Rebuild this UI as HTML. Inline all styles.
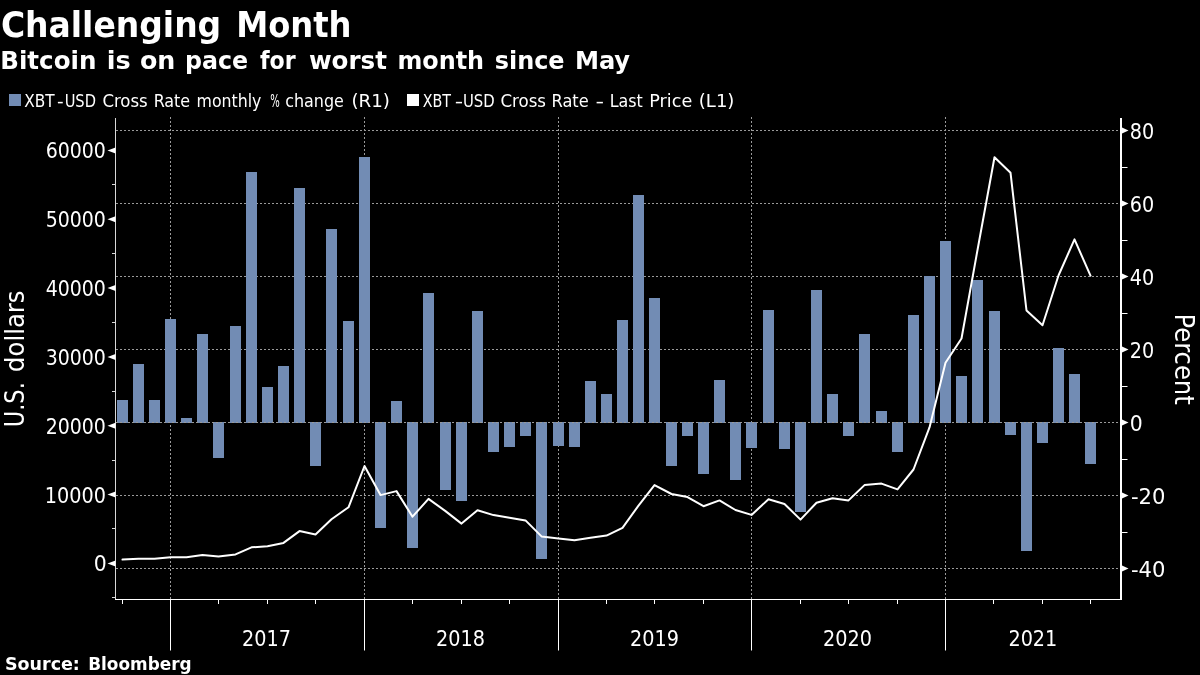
<!DOCTYPE html>
<html lang="en"><head><meta charset="utf-8"><title>Challenging Month</title>
<style>html,body{margin:0;padding:0;background:#000;}body{width:1200px;height:675px;overflow:hidden;}svg{display:block}.t{font-family:"DejaVu Sans Condensed","DejaVu Sans","Liberation Sans",sans-serif;fill:#fff}.b{font-family:"DejaVu Sans Condensed","DejaVu Sans","Liberation Sans",sans-serif;font-weight:bold;fill:#fff}</style></head><body>
<svg width="1200" height="675" viewBox="0 0 1200 675">
<rect width="1200" height="675" fill="#000"/>
<g id="title">
<text class="b" font-size="35" x="0.95" y="36.9" textLength="220.28" lengthAdjust="spacingAndGlyphs">Challenging</text>
<text class="b" font-size="35" x="236.24" y="36.9" textLength="115.29" lengthAdjust="spacingAndGlyphs">Month</text>
</g>
<g id="sub">
<text class="b" font-size="25.5" x="0.26" y="69.0" textLength="96.15" lengthAdjust="spacingAndGlyphs">Bitcoin</text>
<text class="b" font-size="25.5" x="106.78" y="69.0" textLength="23.91" lengthAdjust="spacingAndGlyphs">is</text>
<text class="b" font-size="25.5" x="139.90" y="69.0" textLength="35.43" lengthAdjust="spacingAndGlyphs">on</text>
<text class="b" font-size="25.5" x="184.93" y="69.0" textLength="63.17" lengthAdjust="spacingAndGlyphs">pace</text>
<text class="b" font-size="25.5" x="260.00" y="69.0" textLength="35.66" lengthAdjust="spacingAndGlyphs">for</text>
<text class="b" font-size="25.5" x="308.93" y="69.0" textLength="77.97" lengthAdjust="spacingAndGlyphs">worst</text>
<text class="b" font-size="25.5" x="397.42" y="69.0" textLength="86.64" lengthAdjust="spacingAndGlyphs">month</text>
<text class="b" font-size="25.5" x="494.76" y="69.0" textLength="69.80" lengthAdjust="spacingAndGlyphs">since</text>
<text class="b" font-size="25.5" x="574.90" y="69.0" textLength="55.21" lengthAdjust="spacingAndGlyphs">May</text>
</g>
<rect x="9" y="94" width="12" height="12" fill="#728cb4"/>
<g id="leg1">
<text class="t" font-size="17" x="24.30" y="106.9" textLength="30.31" lengthAdjust="spacingAndGlyphs">XBT</text>
<text class="t" font-size="17" x="57.00" y="106.9" textLength="6.64" lengthAdjust="spacingAndGlyphs">-</text>
<text class="t" font-size="17" x="64.64" y="106.9" textLength="31.33" lengthAdjust="spacingAndGlyphs">USD</text>
<text class="t" font-size="17" x="102.42" y="106.9" textLength="45.35" lengthAdjust="spacingAndGlyphs">Cross</text>
<text class="t" font-size="17" x="153.66" y="106.9" textLength="36.52" lengthAdjust="spacingAndGlyphs">Rate</text>
<text class="t" font-size="17" x="196.57" y="106.9" textLength="64.87" lengthAdjust="spacingAndGlyphs">monthly</text>
<text class="t" font-size="17" x="270.15" y="106.9" textLength="9.51" lengthAdjust="spacingAndGlyphs">%</text>
<text class="t" font-size="17" x="285.16" y="106.9" textLength="58.65" lengthAdjust="spacingAndGlyphs">change</text>
<text class="t" font-size="17" x="351.41" y="106.9" textLength="38.54" lengthAdjust="spacingAndGlyphs">(R1)</text>
</g>
<rect x="407" y="94" width="12" height="12" fill="#fff"/>
<g id="leg2">
<text class="t" font-size="17" x="422.67" y="106.9" textLength="28.29" lengthAdjust="spacingAndGlyphs">XBT</text>
<text class="t" font-size="17" x="454.67" y="106.9" textLength="8.44" lengthAdjust="spacingAndGlyphs">-</text>
<text class="t" font-size="17" x="462.93" y="106.9" textLength="31.75" lengthAdjust="spacingAndGlyphs">USD</text>
<text class="t" font-size="17" x="500.41" y="106.9" textLength="45.56" lengthAdjust="spacingAndGlyphs">Cross</text>
<text class="t" font-size="17" x="551.54" y="106.9" textLength="37.15" lengthAdjust="spacingAndGlyphs">Rate</text>
<text class="t" font-size="17" x="595.45" y="106.9" textLength="8.57" lengthAdjust="spacingAndGlyphs">-</text>
<text class="t" font-size="17" x="609.76" y="106.9" textLength="33.09" lengthAdjust="spacingAndGlyphs">Last</text>
<text class="t" font-size="17" x="649.35" y="106.9" textLength="42.93" lengthAdjust="spacingAndGlyphs">Price</text>
<text class="t" font-size="17" x="698.82" y="106.9" textLength="35.58" lengthAdjust="spacingAndGlyphs">(L1)</text>
</g>
<g stroke="#9a9a9a" stroke-width="1" stroke-dasharray="2 2" fill="none">
<line x1="116" y1="130.5" x2="1120" y2="130.5"/>
<line x1="116" y1="203.5" x2="1120" y2="203.5"/>
<line x1="116" y1="276.5" x2="1120" y2="276.5"/>
<line x1="116" y1="349.5" x2="1120" y2="349.5"/>
<line x1="116" y1="422.5" x2="1120" y2="422.5"/>
<line x1="116" y1="495.5" x2="1120" y2="495.5"/>
<line x1="116" y1="568.5" x2="1120" y2="568.5"/>
<line x1="170.5" y1="117" x2="170.5" y2="599"/>
<line x1="364.5" y1="117" x2="364.5" y2="599"/>
<line x1="558.5" y1="117" x2="558.5" y2="599"/>
<line x1="751.5" y1="117" x2="751.5" y2="599"/>
<line x1="945.5" y1="117" x2="945.5" y2="599"/>
</g>
<g fill="#728cb4">
<rect x="117" y="400" width="11" height="23"/>
<rect x="133" y="364" width="11" height="59"/>
<rect x="149" y="400" width="11" height="23"/>
<rect x="165" y="319" width="11" height="104"/>
<rect x="181" y="418" width="11" height="5"/>
<rect x="197" y="334" width="11" height="89"/>
<rect x="213" y="422" width="11" height="36"/>
<rect x="230" y="326" width="11" height="97"/>
<rect x="246" y="172" width="11" height="251"/>
<rect x="262" y="387" width="11" height="36"/>
<rect x="278" y="366" width="11" height="57"/>
<rect x="294" y="188" width="11" height="235"/>
<rect x="310" y="422" width="11" height="44"/>
<rect x="326" y="229" width="11" height="194"/>
<rect x="343" y="321" width="11" height="102"/>
<rect x="359" y="157" width="11" height="266"/>
<rect x="375" y="422" width="11" height="106"/>
<rect x="391" y="401" width="11" height="22"/>
<rect x="407" y="422" width="11" height="126"/>
<rect x="423" y="293" width="11" height="130"/>
<rect x="440" y="422" width="11" height="68"/>
<rect x="456" y="422" width="11" height="79"/>
<rect x="472" y="311" width="11" height="112"/>
<rect x="488" y="422" width="11" height="30"/>
<rect x="504" y="422" width="11" height="25"/>
<rect x="520" y="422" width="11" height="14"/>
<rect x="536" y="422" width="11" height="137"/>
<rect x="553" y="422" width="11" height="24"/>
<rect x="569" y="422" width="11" height="25"/>
<rect x="585" y="381" width="11" height="42"/>
<rect x="601" y="394" width="11" height="29"/>
<rect x="617" y="320" width="11" height="103"/>
<rect x="633" y="195" width="11" height="228"/>
<rect x="649" y="298" width="11" height="125"/>
<rect x="666" y="422" width="11" height="44"/>
<rect x="682" y="422" width="11" height="14"/>
<rect x="698" y="422" width="11" height="52"/>
<rect x="714" y="380" width="11" height="43"/>
<rect x="730" y="422" width="11" height="58"/>
<rect x="746" y="422" width="11" height="26"/>
<rect x="763" y="310" width="11" height="113"/>
<rect x="779" y="422" width="11" height="27"/>
<rect x="795" y="422" width="11" height="90"/>
<rect x="811" y="290" width="11" height="133"/>
<rect x="827" y="394" width="11" height="29"/>
<rect x="843" y="422" width="11" height="14"/>
<rect x="859" y="334" width="11" height="89"/>
<rect x="876" y="411" width="11" height="12"/>
<rect x="892" y="422" width="11" height="30"/>
<rect x="908" y="315" width="11" height="108"/>
<rect x="924" y="276" width="11" height="147"/>
<rect x="940" y="241" width="11" height="182"/>
<rect x="956" y="376" width="11" height="47"/>
<rect x="972" y="280" width="11" height="143"/>
<rect x="989" y="311" width="11" height="112"/>
<rect x="1005" y="422" width="11" height="13"/>
<rect x="1021" y="422" width="11" height="129"/>
<rect x="1037" y="422" width="11" height="21"/>
<rect x="1053" y="348" width="11" height="75"/>
<rect x="1069" y="374" width="11" height="49"/>
<rect x="1085" y="422" width="11" height="42"/>
</g>
<line x1="116" y1="422.5" x2="1120" y2="422.5" stroke="#9a9a9a" stroke-width="1" stroke-dasharray="2 2"/>
<polyline points="122.5,559.6 138.5,558.7 154.5,558.7 170.5,557.3 186.5,557.3 202.5,555.1 218.5,556.4 235.5,554.4 251.5,547.3 267.5,546.2 283.5,542.9 299.5,531.1 315.5,534.5 331.5,519.3 348.5,507.3 364.5,466.0 380.5,495.1 396.5,491.1 412.5,516.7 428.5,498.9 445.5,511.1 461.5,523.6 477.5,510.2 493.5,515.1 509.5,517.8 525.5,520.4 541.5,536.4 558.5,538.4 574.5,540.2 590.5,537.8 606.5,535.6 622.5,527.8 638.5,505.6 654.5,485.1 671.5,494.0 687.5,497.1 703.5,506.2 719.5,500.4 735.5,510.0 751.5,514.9 768.5,499.3 784.5,504.0 800.5,519.6 816.5,502.7 832.5,498.2 848.5,500.4 864.5,485.1 881.5,483.6 897.5,489.4 913.5,469.5 929.5,427.4 945.5,362.8 961.5,338.5 977.5,250.0 994.5,157.2 1010.5,172.7 1026.5,310.5 1042.5,325.2 1058.5,275.5 1074.5,239.4 1090.5,275.7" fill="none" stroke="#fff" stroke-width="2" stroke-linejoin="round" stroke-linecap="round"/>
<g stroke="#d8d8d8" stroke-width="1" fill="none">
<line x1="115.5" y1="118" x2="115.5" y2="599"/>
<line x1="112" y1="184.5" x2="115.5" y2="184.5"/>
<line x1="112" y1="253.5" x2="115.5" y2="253.5"/>
<line x1="112" y1="322.5" x2="115.5" y2="322.5"/>
<line x1="112" y1="391.5" x2="115.5" y2="391.5"/>
<line x1="112" y1="460.5" x2="115.5" y2="460.5"/>
<line x1="112" y1="528.5" x2="115.5" y2="528.5"/>
<line x1="112" y1="597.5" x2="115.5" y2="597.5"/>
</g>
<g stroke="#fff" stroke-width="1" fill="none">
<line x1="115" y1="599.5" x2="1122" y2="599.5"/>
<line x1="122.5" y1="599.5" x2="122.5" y2="604"/>
<line x1="170.5" y1="599.5" x2="170.5" y2="650.5"/>
<line x1="218.5" y1="599.5" x2="218.5" y2="604"/>
<line x1="267.5" y1="599.5" x2="267.5" y2="604"/>
<line x1="315.5" y1="599.5" x2="315.5" y2="604"/>
<line x1="364.5" y1="599.5" x2="364.5" y2="650.5"/>
<line x1="412.5" y1="599.5" x2="412.5" y2="604"/>
<line x1="461.5" y1="599.5" x2="461.5" y2="604"/>
<line x1="509.5" y1="599.5" x2="509.5" y2="604"/>
<line x1="558.5" y1="599.5" x2="558.5" y2="650.5"/>
<line x1="606.5" y1="599.5" x2="606.5" y2="604"/>
<line x1="654.5" y1="599.5" x2="654.5" y2="604"/>
<line x1="703.5" y1="599.5" x2="703.5" y2="604"/>
<line x1="751.5" y1="599.5" x2="751.5" y2="650.5"/>
<line x1="800.5" y1="599.5" x2="800.5" y2="604"/>
<line x1="848.5" y1="599.5" x2="848.5" y2="604"/>
<line x1="897.5" y1="599.5" x2="897.5" y2="604"/>
<line x1="945.5" y1="599.5" x2="945.5" y2="650.5"/>
<line x1="993.5" y1="599.5" x2="993.5" y2="604"/>
<line x1="1042.5" y1="599.5" x2="1042.5" y2="604"/>
<line x1="1090.5" y1="599.5" x2="1090.5" y2="604"/>
</g>
<g stroke="#fff" fill="none">
<line x1="1121" y1="118" x2="1121" y2="600" stroke-width="2"/>
<line x1="1122" y1="167.5" x2="1127.5" y2="167.5" stroke-width="1"/>
<line x1="1122" y1="240.5" x2="1127.5" y2="240.5" stroke-width="1"/>
<line x1="1122" y1="313.5" x2="1127.5" y2="313.5" stroke-width="1"/>
<line x1="1122" y1="386.5" x2="1127.5" y2="386.5" stroke-width="1"/>
<line x1="1122" y1="459.5" x2="1127.5" y2="459.5" stroke-width="1"/>
<line x1="1122" y1="532.5" x2="1127.5" y2="532.5" stroke-width="1"/>
</g>
<g fill="#fff">
<path d="M115.5 147.4L107.5 150.4L115.5 153.4Z"/>
<path d="M115.5 216.2L107.5 219.2L115.5 222.2Z"/>
<path d="M115.5 285.1L107.5 288.1L115.5 291.1Z"/>
<path d="M115.5 353.9L107.5 356.9L115.5 359.9Z"/>
<path d="M115.5 422.7L107.5 425.7L115.5 428.7Z"/>
<path d="M115.5 491.5L107.5 494.5L115.5 497.5Z"/>
<path d="M115.5 560.4L107.5 563.4L115.5 566.4Z"/>
<path d="M1122 127.5L1128.5 130.5L1122 133.5Z"/>
<path d="M1122 200.5L1128.5 203.5L1122 206.5Z"/>
<path d="M1122 273.5L1128.5 276.5L1122 279.5Z"/>
<path d="M1122 346.5L1128.5 349.5L1122 352.5Z"/>
<path d="M1122 419.5L1128.5 422.5L1122 425.5Z"/>
<path d="M1122 492.5L1128.5 495.5L1122 498.5Z"/>
<path d="M1122 565.5L1128.5 568.5L1122 571.5Z"/>
</g>
<g id="ltick">
<text class="t" font-size="22" x="45.74" y="158.4" textLength="60.17" lengthAdjust="spacingAndGlyphs">60000</text>
<text class="t" font-size="22" x="45.74" y="227.2" textLength="60.17" lengthAdjust="spacingAndGlyphs">50000</text>
<text class="t" font-size="22" x="45.74" y="296.1" textLength="60.17" lengthAdjust="spacingAndGlyphs">40000</text>
<text class="t" font-size="22" x="45.74" y="364.9" textLength="60.17" lengthAdjust="spacingAndGlyphs">30000</text>
<text class="t" font-size="22" x="45.74" y="433.7" textLength="60.17" lengthAdjust="spacingAndGlyphs">20000</text>
<text class="t" font-size="22" x="44.76" y="502.5" textLength="61.17" lengthAdjust="spacingAndGlyphs">10000</text>
<text class="t" font-size="22" x="93.67" y="571.4" textLength="12.97" lengthAdjust="spacingAndGlyphs">0</text>
</g>
<g id="rtick">
<text class="t" font-size="22" x="1129.73" y="138.5" textLength="24.42" lengthAdjust="spacingAndGlyphs">80</text>
<text class="t" font-size="22" x="1129.73" y="211.5" textLength="24.42" lengthAdjust="spacingAndGlyphs">60</text>
<text class="t" font-size="22" x="1129.73" y="284.5" textLength="24.42" lengthAdjust="spacingAndGlyphs">40</text>
<text class="t" font-size="22" x="1129.73" y="357.5" textLength="24.42" lengthAdjust="spacingAndGlyphs">20</text>
<text class="t" font-size="22" x="1129.67" y="430.5" textLength="12.97" lengthAdjust="spacingAndGlyphs">0</text>
<text class="t" font-size="22" x="1130.93" y="503.5" textLength="34.48" lengthAdjust="spacingAndGlyphs">-20</text>
<text class="t" font-size="22" x="1130.93" y="576.5" textLength="34.48" lengthAdjust="spacingAndGlyphs">-40</text>
</g>
<g id="year">
<text class="t" font-size="22" x="242.10" y="645.8" textLength="48.89" lengthAdjust="spacingAndGlyphs">2017</text>
<text class="t" font-size="22" x="436.10" y="645.8" textLength="48.89" lengthAdjust="spacingAndGlyphs">2018</text>
<text class="t" font-size="22" x="630.10" y="645.8" textLength="48.89" lengthAdjust="spacingAndGlyphs">2019</text>
<text class="t" font-size="22" x="823.10" y="645.8" textLength="48.89" lengthAdjust="spacingAndGlyphs">2020</text>
<text class="t" font-size="22" x="1008.43" y="645.8" textLength="48.89" lengthAdjust="spacingAndGlyphs">2021</text>
</g>
<g id="ax">
<text class="t" font-size="26" transform="translate(24.4 425.4) rotate(-90)" x="-1.93" y="0" textLength="45.21" lengthAdjust="spacingAndGlyphs">U.S.</text>
<text class="t" font-size="26" transform="translate(24.4 425.4) rotate(-90)" x="53.46" y="0" textLength="81.49" lengthAdjust="spacingAndGlyphs">dollars</text>
<text class="t" font-size="26" transform="translate(1175.4 315.6) rotate(90)" x="-2.08" y="0" textLength="91.25" lengthAdjust="spacingAndGlyphs">Percent</text>
</g>
<g id="src">
<text class="b" font-family="DejaVu Sans" font-size="17" x="4.97" y="669.7" textLength="74.91" lengthAdjust="spacingAndGlyphs">Source:</text>
<text class="b" font-family="DejaVu Sans" font-size="17" x="88.21" y="669.7" textLength="103.39" lengthAdjust="spacingAndGlyphs">Bloomberg</text>
</g>
</svg></body></html>
